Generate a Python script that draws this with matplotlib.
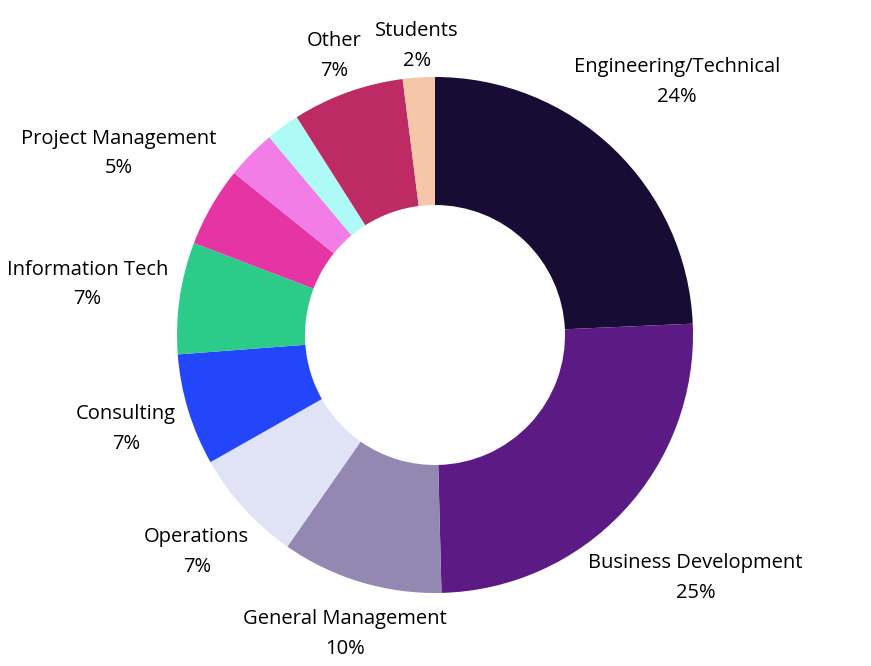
import matplotlib.pyplot as plt
import numpy as np

# slice data, clockwise from 12 o'clock
names = [
    "Engineering/Technical",
    "Business Development",
    "General Management",
    "Operations",
    "Consulting",
    "Information Tech",
    "Project Management",
    "",
    "",
    "Other",
    "Students",
]
shares = [24.3, 25.3, 10.1, 7.1, 7.0, 7.0, 5.0, 3.1, 2.1, 7.0, 2.0]
colors = [
    "#170c33",
    "#5c1a84",
    "#9288b2",
    "#dfe3f5",
    "#2346fb",
    "#2ccb89",
    "#e535a4",
    "#f27de6",
    "#aefaf6",
    "#be2a64",
    "#f5c6a8",
]

W, H = 871, 666
cx, cy = 435, H - 335
R = 258
hole = 130

plt.rcParams["font.family"] = ["Open Sans", "DejaVu Sans"]

fig = plt.figure(figsize=(W / 100, H / 100), dpi=100)
ax = fig.add_axes([0, 0, 1, 1])

ax.pie(
    shares,
    colors=colors,
    startangle=90,
    counterclock=False,
    radius=R,
    center=(cx, cy),
    wedgeprops=dict(width=R - hole, linewidth=0),
    frame=True,
)
ax.set_xlim(0, W)
ax.set_ylim(0, H)
ax.set_aspect("equal")
ax.axis("off")

total = sum(shares)
renderer = fig.canvas.get_renderer()
start = 0.0
for name, val in zip(names, shares):
    span = 360 * val / total
    mid = np.radians(start + span / 2)
    start += span
    if not name:
        continue
    txt = ax.text(0, 0, f"{name}\n{round(val / total * 100)}%", ha="center", va="center",
                  fontsize=14.5, linespacing=1.65, color="black")
    bb = txt.get_window_extent(renderer)
    vx, vy = np.sin(mid), np.cos(mid)
    # left side labels sit a little further out
    off = 4 + 6 * abs(vx) if vx < 0 else 3
    if vy < -0.9:
        off -= 5
    r = R + off + abs(vx) * bb.width / 2 + abs(vy) * bb.height / 2
    txt.set_position((cx + r * vx, cy + r * vy))

fig.savefig("out.png", dpi=100)
